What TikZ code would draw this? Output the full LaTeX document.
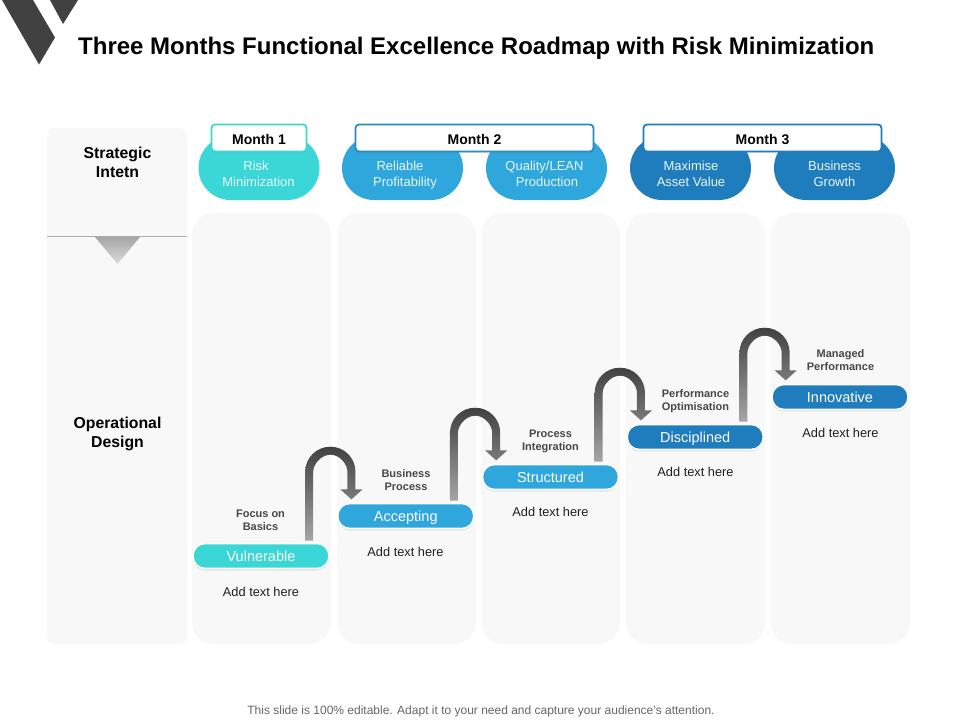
\documentclass[tikz,border=0pt]{standalone}
\usepackage{fontspec}
\setmainfont{Liberation Sans}
\usetikzlibrary{calc,shadows}
\definecolor{cteal}{HTML}{3BD6D6}
\definecolor{cblue}{HTML}{2FA6DC}
\definecolor{cdark}{HTML}{1F7CBD}
\definecolor{cpanel}{HTML}{F8F8F8}
\definecolor{cdarkgray}{HTML}{414141}
\tikzset{
  panel/.style={fill=cpanel,draw=none,rounded corners=22pt},
  blob/.style={draw=none,rounded corners=32pt,minimum width=121pt,minimum height=64pt,inner sep=0pt},
  blobtext/.style={text=white!88!cteal,font=\fontsize{13}{16}\selectfont,align=center,inner sep=0pt},
  monthbox/.style={fill=white,draw=#1,line width=1.8pt,rounded corners=3.5pt,minimum height=27pt,inner sep=0pt,text height=12pt,text depth=0pt,font=\fontsize{14}{16}\selectfont\bfseries,drop shadow={opacity=.15,shadow xshift=0pt,shadow yshift=-1.5pt}},
  pill/.style={fill=#1,draw=white,line width=1.6pt,rounded corners=12pt,minimum width=136pt,minimum height=25pt,inner sep=0pt,text height=12pt,text depth=1pt,text=white,font=\fontsize{14.5}{16}\selectfont,drop shadow={opacity=.18,shadow xshift=0pt,shadow yshift=-2pt}},
  steplabel/.style={text=black!72,font=\fontsize{11}{13}\selectfont\bfseries,align=center,inner sep=0pt},
  addtext/.style={text=black!88,font=\fontsize{12.8}{14}\selectfont,inner sep=0pt},
  headtext/.style={font=\fontsize{15.8}{19}\selectfont\bfseries,align=center,inner sep=0pt},
  uturn/.style={top color=cdarkgray,bottom color=black!35,draw=none}
}
\newcommand{\uturnarrow}[2]{%
  \coordinate (s) at ($(#1.north east)+(-24.6,-2)$);
  \coordinate (t) at ($(#2.north west)+(14.5,-3.3)$);
  \begin{scope}[shift={(t)}]
    \shade[uturn] (s) -- (-46.25,-27.7)
      .. controls (-46.25,-41.5) and (-35,-52.7) .. (-21,-52.7)
      .. controls (-7.2,-52.7) and (4,-41.5) .. (4,-27.7)
      -- (4,-10) -- (11,-10) -- (0,0) -- (-11,-10) -- (-4,-10) -- (-4,-27.7)
      .. controls (-4,-35.1) and (-11.6,-44.7) .. (-21,-44.7)
      .. controls (-30.4,-44.7) and (-38.25,-35.1) .. (-38.25,-27.7)
      -- ($(s)+(8,0)$) -- cycle;
  \end{scope}
}
\begin{document}
\begin{tikzpicture}[x=1pt,y=-1pt]
\useasboundingbox (0,0) rectangle (960,720);
\fill[white] (0,0) rectangle (960,720);
% logo
\fill[cdarkgray] (2,0) -- (39,64.5) -- (55,37.5) -- (33,0) -- cycle;
\fill[cdarkgray] (50,0) -- (63,24) -- (78,0) -- cycle;
% title
\node[anchor=west,inner sep=0pt,font=\fontsize{24}{26}\selectfont\bfseries] (title) at (78,48) {Three Months Functional Excellence Roadmap with Risk Minimization};
% left panel
\fill[cpanel,rounded corners=8pt] (47,128) rectangle (187,644);
\coordinate (lineL) at (47,236.5);
\coordinate (lineR) at (187,236.5);
\draw[black!32,line width=.7pt] (lineL) -- (lineR);
\shade[top color=black!35,bottom color=black!14] (95,237) -- (140,237) -- (117.5,264) -- cycle;
\node[headtext] (strategic) at (117.5,162.5) {Strategic\\Intetn};
\node[headtext] (opdesign) at (117.5,433.5) {Operational\\Design};
% columns
\fill[panel] (192,213) rectangle (331,644);
\fill[panel] (337,213) rectangle (476,644);
\fill[panel] (481,213) rectangle (620,644);
\fill[panel] (626,213) rectangle (765,644);
\fill[panel] (771,213) rectangle (910,644);
% blobs
\node[blob,fill=cteal] (b1) at (259,168) {};
\node[blob,fill=cblue] (b2) at (402.5,168) {};
\node[blob,fill=cblue] (b3) at (546.5,168) {};
\node[blob,fill=cdark] (b4) at (690.5,168) {};
\node[blob,fill=cdark] (b5) at (834.5,168) {};
\node[blobtext] (t1) at (258.5,173.5) {Risk\hspace*{5pt}\\Minimization};
\node[blobtext] (t2) at (405,175) {Reliable\hspace*{10pt}\\Profitability};
\node[blobtext] (t3) at (544.5,173.5) {Quality/LEAN\\\hspace*{5pt}Production};
\node[blobtext] (t4) at (691,173.7) {Maximise\\Asset Value};
\node[blobtext] (t5) at (834.5,173.7) {Business\\Growth};
% month boxes
\node[monthbox=cteal,minimum width=95pt] (m1) at (259,138) {Month 1};
\node[monthbox=cblue!85!black,minimum width=238pt] (m2) at (474.5,138) {Month 2};
\node[monthbox=cdark,minimum width=238pt] (m3) at (762.5,138) {Month 3};
% pills
\node[pill=cteal] (vul) at (261,556) {Vulnerable};
\node[pill=cblue] (acc) at (405.75,516) {Accepting};
\node[pill=cblue] (str) at (550.5,477) {Structured};
\node[pill=cdark] (dis) at (695.25,437) {Disciplined};
\node[pill=cdark] (inn) at (840,397) {Innovative};
% u-turn arrows
\uturnarrow{vul}{acc}
\uturnarrow{acc}{str}
\uturnarrow{str}{dis}
\uturnarrow{dis}{inn}
% labels
\node[steplabel] (l1) at (260.5,520.2) {Focus on\\Basics};
\node[steplabel] (l2) at (406,480.2) {Business\\Process};
\node[steplabel] (l3) at (550.5,441) {Process\\Integration};
\node[steplabel] (l4) at (695.5,401) {Performance\\Optimisation};
\node[steplabel] (l5) at (840.5,360.2) {Managed\\Performance};
\node[addtext] (a1) at (261,591.5) {Add text here};
\node[addtext] (a2) at (405.5,551.5) {Add text here};
\node[addtext] (a3) at (550.5,511.5) {Add text here};
\node[addtext] (a4) at (695.5,471.5) {Add text here};
\node[addtext] (a5) at (840.5,432.5) {Add text here};
% footer
\node[inner sep=0pt,text=black!60,font=\fontsize{12}{14}\selectfont] (foot) at (481,711.5) {This slide is 100\% editable. Adapt it to your need and capture your audience’s attention.};
\end{tikzpicture}
\end{document}
